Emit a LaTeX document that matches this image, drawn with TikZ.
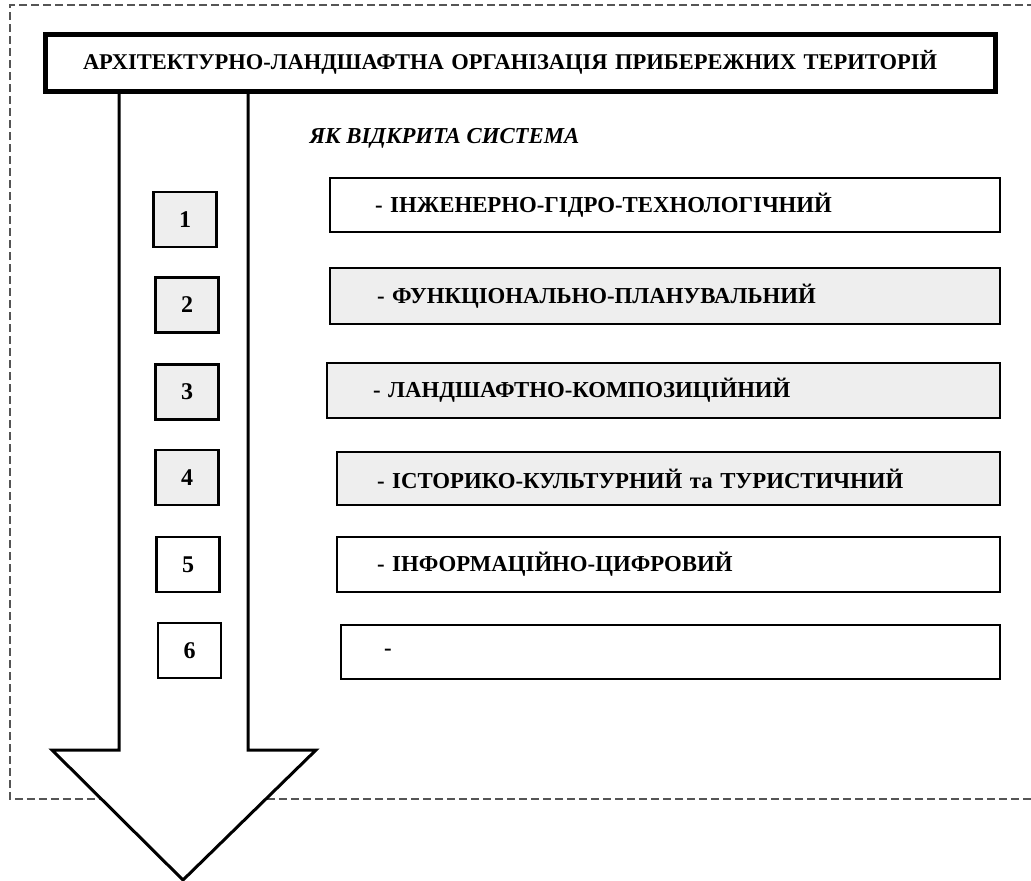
\documentclass[tikz,border=0pt]{standalone}
\usepackage{fontspec}
\setmainfont{Liberation Serif}
\begin{document}
\begin{tikzpicture}[x=1pt,y=-1pt,
  every node/.style={font=\fontsize{22.8}{26}\selectfont\bfseries},
  titlebox/.style={draw=black, line width=5pt, minimum width=950pt, minimum height=57pt, inner ysep=0pt, align=left, font=\fontsize{22.5}{26}\selectfont\bfseries},
  numbox/.style={draw=black, line width=2.7pt, minimum width=63pt, minimum height=55pt, inner sep=0pt, font=\fontsize{24}{26}\selectfont\bfseries},
  itembox/.style={draw=black, line width=2.5pt, minimum height=54pt, align=left, inner ysep=0pt},
  grayfill/.style={fill=boxgray},
  frame/.style={draw=framegray, line width=1.1pt, dash pattern=on 8pt off 4pt},
  bigarrow/.style={draw=black, line width=3pt, fill=white, line join=miter}
]
\definecolor{boxgray}{HTML}{EEEEEE}
\definecolor{framegray}{HTML}{555555}
\useasboundingbox (0,0) rectangle (1031,881);
\fill[white] (0,0) rectangle (1031,881);
% dashed frame
\draw[frame] (1035,5) -- (10,5) -- (10,799) -- (1035,799);
% arrow
\coordinate (al) at (119,90);
\coordinate (ar) at (248,90);
\draw[bigarrow] (al) -- (119,750) -- (52,750) -- (183,880) -- (316,750) -- (248,750) -- (ar);
% title
\node[titlebox, inner xsep=38pt, text width=874pt] (title) at (520,62.5) {АРХІТЕКТУРНО-ЛАНДШАФТНА ОРГАНІЗАЦІЯ ПРИБЕРЕЖНИХ ТЕРИТОРІЙ};
\node[anchor=west, font=\fontsize{22.8}{26}\selectfont\bfseries\itshape] (sys) at (306,138) {ЯК ВІДКРИТА СИСТЕМА};
% number boxes
\node[numbox, grayfill] (n1) at (185,219.5) {1};
\node[numbox, grayfill] (n2) at (187,305) {2};
\node[numbox, grayfill] (n3) at (187,392) {3};
\node[numbox, grayfill] (n4) at (187,477.5) {4};
\node[numbox, fill=white] (n5) at (188,564.5) {5};
\node[numbox, fill=white] (n6) at (189.5,650.5) {6};
% item boxes
\node[itembox, fill=white, inner xsep=45pt, text width=580pt] (i1) at (665,205) {- ІНЖЕНЕРНО-ГІДРО-ТЕХНОЛОГІЧНИЙ};
\node[itembox, grayfill, inner xsep=47pt, text width=576pt, minimum height=56pt] (i2) at (665,296) {- ФУНКЦІОНАЛЬНО-ПЛАНУВАЛЬНИЙ};
\node[itembox, grayfill, inner xsep=46pt, text width=581pt, minimum height=55pt] (i3) at (663.5,390.5) {- ЛАНДШАФТНО-КОМПОЗИЦІЙНИЙ};
\node[itembox, grayfill, inner xsep=40pt, text width=583pt, minimum height=53pt] (i4) at (668.5,478.5) {- ІСТОРИКО-КУЛЬТУРНИЙ та ТУРИСТИЧНИЙ};
\node[itembox, fill=white, inner xsep=40pt, text width=583pt, minimum height=55pt] (i5) at (668.5,564.5) {- ІНФОРМАЦІЙНО-ЦИФРОВИЙ};
\node[itembox, fill=white, inner xsep=43pt, text width=573pt, minimum height=54pt] (i6) at (670.5,652) {-};
\end{tikzpicture}
\end{document}
